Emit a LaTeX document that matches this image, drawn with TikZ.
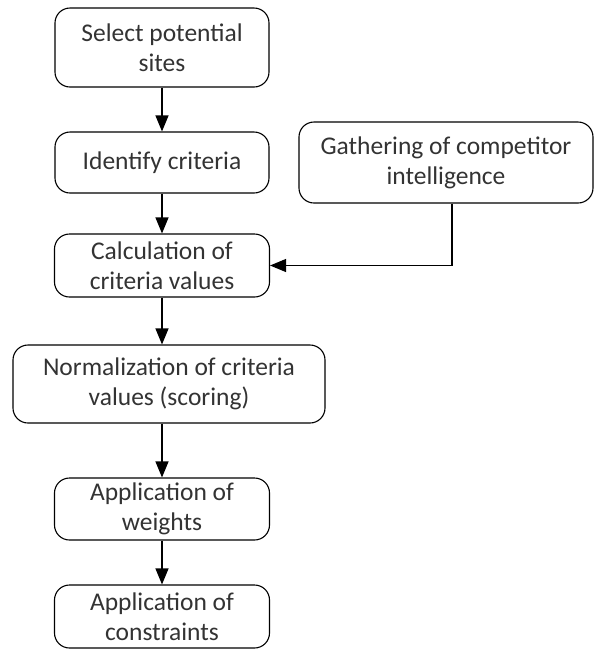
\documentclass[tikz,border=0pt]{standalone}
\usepackage{fontspec}
\setmainfont{Carlito}
\usetikzlibrary{arrows.meta}

\begin{document}
\begin{tikzpicture}[x=1pt,y=-1pt,
  stage/.style={draw, line width=1.1pt, rounded corners=15pt, align=center,
    inner sep=0pt, text=black!80,
    font=\fontsize{25.5}{30}\selectfont},
  flow/.style={line width=1.1pt, -{Triangle[length=16pt,width=13pt]}}]
\useasboundingbox (0,0) rectangle (595,649);
% process boxes
\node[stage, minimum width=214pt, minimum height=79pt] (select) at (162,47.5) {Select potential\\sites};
\node[stage, minimum width=214pt, minimum height=61pt] (identify) at (162,162.5) {Identify criteria};
\node[stage, minimum width=294pt, minimum height=81pt] (gather) at (446,162.5) {Gathering of competitor\\intelligence};
\node[stage, minimum width=215pt, minimum height=63pt] (calc) at (162,265.5) {Calculation of\\criteria values};
\node[stage, minimum width=312pt, minimum height=78pt] (norm) at (169,384) {Normalization of criteria\\values (scoring)};
\node[stage, minimum width=215pt, minimum height=62pt] (weights) at (162,509) {Application of\\weights};
\node[stage, minimum width=215pt, minimum height=63pt] (constr) at (162,616.5) {Application of\\constraints};
\coordinate (bend) at (452,265.5);
% connectors
\draw[flow] (select) -- (identify);
\draw[flow] (identify) -- (calc);
\draw[flow] (gather.south -| bend) -- (bend) -- (calc.east);
\draw[flow] (calc.south) -- (calc.south |- norm.north);
\draw[flow] (weights.north |- norm.south) -- (weights.north);
\draw[flow] (weights) -- (constr);
\end{tikzpicture}
\end{document}
